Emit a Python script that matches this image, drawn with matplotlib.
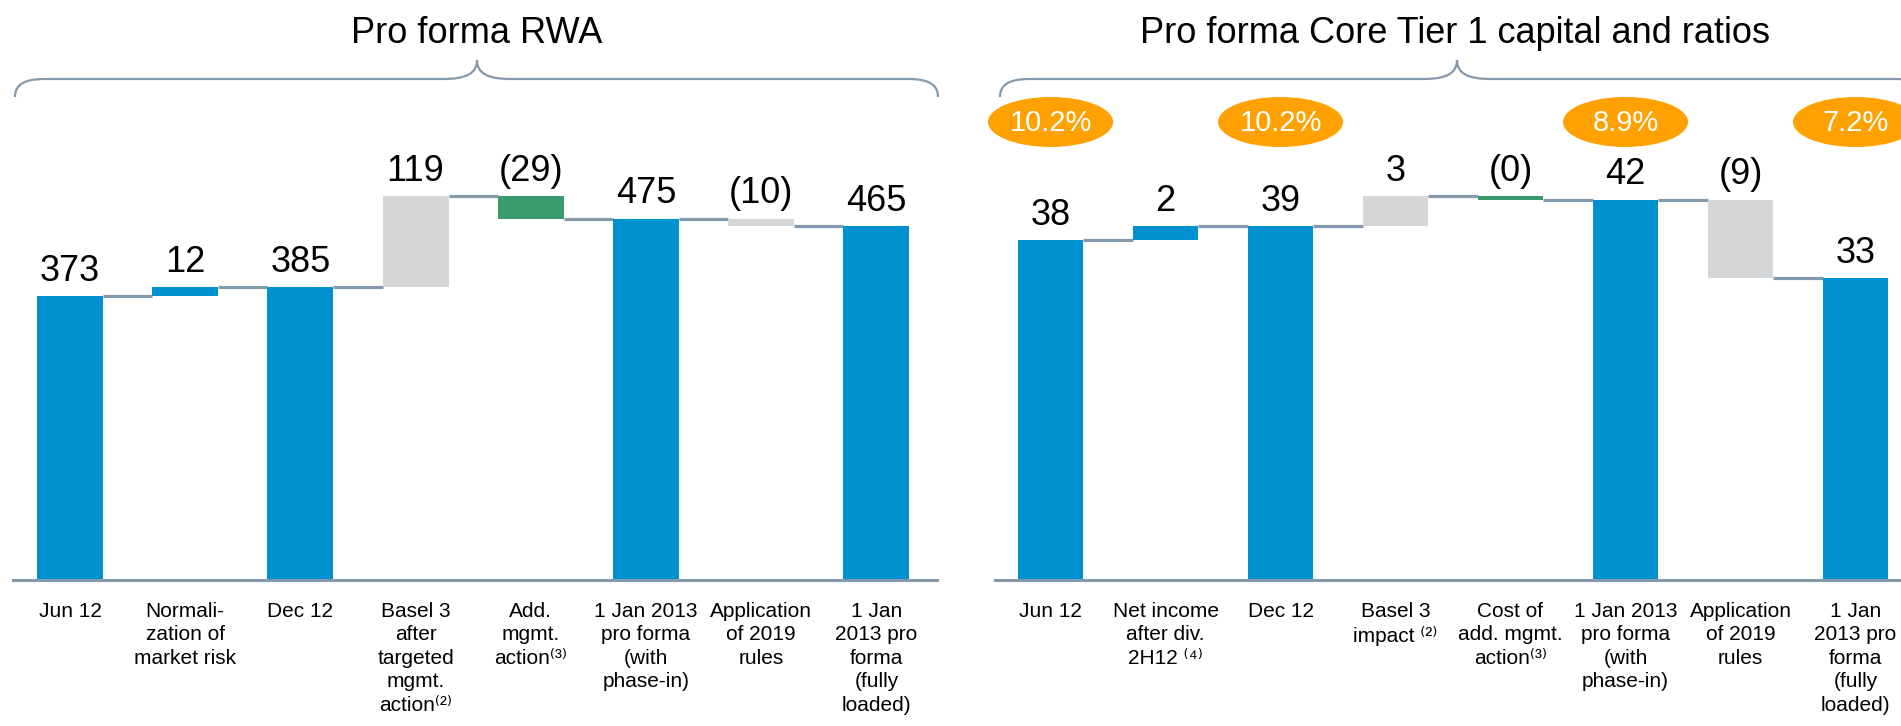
import matplotlib
matplotlib.use('Agg')
import matplotlib.pyplot as plt
from matplotlib.patches import Ellipse, PathPatch
from matplotlib.path import Path

plt.rcParams['font.family'] = ['Liberation Sans', 'DejaVu Sans']

# ---- data ----
rwa_cats = ['Jun 12', 'Normali-\nzation of\nmarket risk', 'Dec 12',
            'Basel 3\nafter\ntargeted\nmgmt.\naction\u207d\u00b2\u207e',
            'Add.\nmgmt.\naction\u207d\u00b3\u207e',
            '1 Jan 2013\npro forma\n(with\nphase-in)',
            'Application\nof 2019\nrules',
            '1 Jan\n2013 pro\nforma\n(fully\nloaded)']
rwa_vals = [373, 12, 385, 119, -29, 475, -10, 465]
rwa_kind = ['total', 'delta', 'total', 'delta', 'delta', 'total', 'delta', 'total']
rwa_labels = ['373', '12', '385', '119', '(29)', '475', '(10)', '465']

ct1_cats = ['Jun 12', 'Net income\nafter div.\n2H12 \u207d\u2074\u207e', 'Dec 12',
            'Basel 3\nimpact \u207d\u00b2\u207e',
            'Cost of\nadd. mgmt.\naction\u207d\u00b3\u207e',
            '1 Jan 2013\npro forma\n(with\nphase-in)',
            'Application\nof 2019\nrules',
            '1 Jan\n2013 pro\nforma\n(fully\nloaded)']
ct1_vals = [37.9, 1.5, 39.4, 3.4, -0.4, 42.4, -8.8, 33.6]
ct1_kind = ['total', 'delta', 'total', 'delta', 'delta', 'total', 'delta', 'total']
ct1_labels = ['38', '2', '39', '3', '(0)', '42', '(9)', '33']

ratio_idx = [0, 2, 5, 7]
ratio_labels = ['10.2%', '10.2%', '8.9%', '7.2%']

# ---- style ----
BLUE = '#0091d0'
GREY = '#d5d6d8'
GREEN = '#3a9b6d'
LINE = '#8599ad'
ORANGE = '#ffa100'

rwa_colors = [BLUE, BLUE, BLUE, GREY, GREEN, BLUE, GREY, BLUE]
ct1_colors = [BLUE, BLUE, BLUE, GREY, GREEN, BLUE, GREY, BLUE]

W, H = 1901, 726
fig = plt.figure(figsize=(W / 100, H / 100), dpi=100)
width = 0.573


def waterfall(ax, vals, kind, labels, cats, colors):
    run = 0
    levels = []
    for i, (v, k) in enumerate(zip(vals, kind)):
        if k == 'total':
            bottom, h = 0, v
            run = v
        else:
            bottom = run if v >= 0 else run + v
            h = abs(v)
            run += v
        levels.append(run)
        ax.bar(i, h, bottom=bottom, width=width, color=colors[i], zorder=2)
        ax.annotate(labels[i], (i, bottom + h), xytext=(0, 11),
                    textcoords='offset points', ha='center', va='baseline',
                    fontsize=26)
        ax.annotate(cats[i], (i, 0), xytext=(0, -16), textcoords='offset points',
                    ha='center', va='top', fontsize=15, linespacing=1.3,
                    multialignment='center')
    for i in range(len(vals) - 1):
        ax.plot([i + width / 2, i + 1 - width / 2], [levels[i], levels[i]],
                color=LINE, lw=2.3, solid_capstyle='butt', zorder=1)
    for s in ['top', 'left', 'right']:
        ax.spines[s].set_visible(False)
    ax.spines['bottom'].set_color(LINE)
    ax.spines['bottom'].set_linewidth(2.2)
    ax.set_xticks([])
    ax.set_yticks([])
    ax.patch.set_alpha(0)


base = 579.5
ax1 = fig.add_axes([13 / W, (H - base) / H, (937 - 13) / W, base / H])
ax1.set_xlim(-0.495, 7.526)
ax1.set_ylim(0, base / 0.760)
waterfall(ax1, rwa_vals, rwa_kind, rwa_labels, rwa_cats, rwa_colors)

ax2 = fig.add_axes([995 / W, (H - base) / H, (W - 995) / W, base / H])
ax2.set_xlim(-0.483, 7.396)
ax2.set_ylim(0, base / 8.96)
waterfall(ax2, ct1_vals, ct1_kind, ct1_labels, ct1_cats, ct1_colors)

# overlay in pixel coordinates for titles, braces and ratio bubbles
ov = fig.add_axes([0, 0, 1, 1])
ov.set_xlim(0, W)
ov.set_ylim(H, 0)
ov.axis('off')


def brace(x0, x1, xp, y_end=97, y_line=79, y_peak=60):
    verts = [(x0, y_end), (x0, y_line + 5), (x0 + 10, y_line), (x0 + 30, y_line),
             (xp - 34, y_line),
             (xp - 10, y_line), (xp, y_line - 6), (xp, y_peak),
             (xp, y_line - 6), (xp + 10, y_line), (xp + 34, y_line),
             (x1 - 30, y_line),
             (x1 - 10, y_line), (x1, y_line + 5), (x1, y_end)]
    codes = [Path.MOVETO, Path.CURVE4, Path.CURVE4, Path.CURVE4,
             Path.LINETO,
             Path.CURVE4, Path.CURVE4, Path.CURVE4,
             Path.CURVE4, Path.CURVE4, Path.CURVE4,
             Path.LINETO,
             Path.CURVE4, Path.CURVE4, Path.CURVE4]
    ov.add_patch(PathPatch(Path(verts, codes), facecolor='none', edgecolor=LINE, lw=1.6))


brace(15, 938, 477)
brace(1000, 1925, 1457)

ov.text(477, 43, 'Pro forma RWA', ha='center', va='baseline', fontsize=26)
ov.text(1455, 43, 'Pro forma Core Tier 1 capital and ratios', ha='center',
        va='baseline', fontsize=26)

for idx, lab in zip(ratio_idx, ratio_labels):
    xd = ax2.transData.transform((idx, 0))[0]
    ov.add_patch(Ellipse((xd, 122), 125, 50, color=ORANGE, lw=0))
    ov.text(xd, 123, lab, ha='center', va='center', color='white', fontsize=21)

fig.savefig('out.png', dpi=100)
